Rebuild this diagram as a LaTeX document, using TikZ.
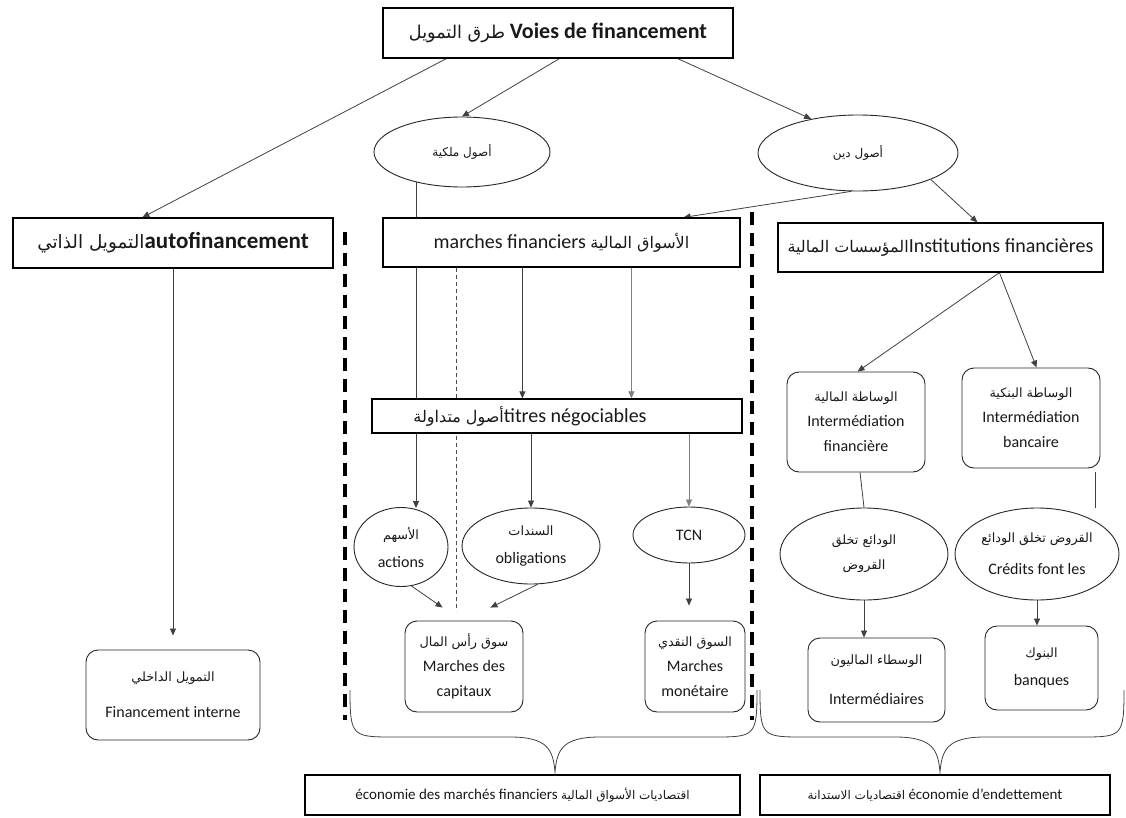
\documentclass[tikz,border=0pt]{standalone}
\usepackage{fontspec}
\setmainfont{Carlito}
\newfontfamily\arabicfont[Script=Arabic,Scale=0.8]{DejaVu Sans}
\TeXXeTstate=1
\newcommand\artxt[1]{{\arabicfont\mdseries\beginR #1\endR}}
\usetikzlibrary{arrows.meta,shapes.geometric,calc}
\pgfdeclarelayer{bg}
\pgfsetlayers{bg,main}
\begin{document}
\begin{tikzpicture}[x=1pt,y=-1pt,
  box/.style={draw=black, line width=1.2pt, fill=white, inner sep=0pt, text=black!90, font=\fontsize{20}{24}\selectfont},
  rbox/.style={draw=black!85, line width=0.9pt, rounded corners=12pt, fill=white, align=center, inner sep=0pt, text=black!90},
  ell/.style={ellipse, draw=black!85, line width=0.9pt, fill=white, inner sep=0pt, align=center, text=black!90},
  arr/.style={-{Triangle[length=7pt,width=6pt]}, line width=0.8pt, draw=black!75},
  garr/.style={-{Triangle[length=7pt,width=6pt]}, line width=0.6pt, draw=black!50},
  ln/.style={line width=0.8pt, draw=black!75},
  sep/.style={line width=4pt, draw=black, dash pattern=on 13pt off 8pt},
  fs/.style={font=\fontsize{16}{25}\selectfont},
]
\useasboundingbox (0,0) rectangle (1126,818);

% top row
\node[box, minimum width=350, minimum height=50, font=\bfseries\fontsize{22}{26}\selectfont] (top) at (558,33) {\artxt{طرق التمويل} Voies de financement};
\node[ell, minimum width=176, minimum height=70, font=\fontsize{15}{20}\selectfont] (o1) at (462,152) {\artxt{أصول ملكية}};
\node[ell, minimum width=200, minimum height=76, font=\fontsize{15}{20}\selectfont] (o2) at (858,153) {\artxt{أصول دين}};

% second row boxes
\node[box, minimum width=320, minimum height=50, font=\bfseries\fontsize{23}{27}\selectfont] (auto) at (173,243) {\artxt{التمويل الذاتي}autofinancement};
\node[box, minimum width=357, minimum height=49] (mf) at (561.5,242.5) {marches financiers \artxt{الأسواق المالية}};
\node[box, minimum width=325, minimum height=49] (inst) at (940.5,247.5) {\artxt{المؤسسات المالية}Institutions financières};

% titres
\node[box, minimum width=370, minimum height=34] (titres) at (557,416) {};
\node[inner sep=0pt, text=black!90, font=\fontsize{20}{24}\selectfont] (titrest) at (530,416) {\artxt{أصول متداولة}titres négociables};

% intermediation
\node[rbox, fs, minimum width=138, minimum height=100] (fin) at (856,422) {\artxt{الوساطة المالية}\\Intermédiation\\financière};
\node[rbox, fs, minimum width=138, minimum height=100] (banc) at (1031,418) {\artxt{الوساطة البنكية}\\Intermédiation\\bancaire};

% right ellipses
\node[ell, fs, minimum width=168, minimum height=92] (e1) at (864,554) {\artxt{الودائع تخلق}\\\artxt{القروض}};
\node[ell, fs, minimum width=164, minimum height=92, font=\fontsize{16}{32}\selectfont] (e2) at (1037,554) {\artxt{القروض تخلق الودائع}\\Crédits font les};

% right bottom boxes
\node[rbox, minimum width=137, minimum height=84, font=\fontsize{16}{40}\selectfont] (inter) at (876.5,680) {\artxt{الوسطاء الماليون}\\Intermédiaires};
\node[rbox, minimum width=113, minimum height=84, font=\fontsize{16}{28}\selectfont] (banq) at (1041.5,668) {\artxt{البنوك}\\banques};

% middle ellipses
\node[ell, minimum width=94, minimum height=79, font=\fontsize{16}{28}\selectfont] (act) at (401,547) {\artxt{الأسهم}\\actions};
\node[ell, minimum width=138, minimum height=76, font=\fontsize{16}{28}\selectfont] (obl) at (531,546) {\artxt{السندات}\\obligations};
\node[ell, minimum width=112, minimum height=56, font=\fontsize{16}{20}\selectfont] (tcn) at (689,535) {TCN};

% middle bottom boxes
\node[rbox, fs, minimum width=118, minimum height=91] (cap) at (464,666.5) {\artxt{سوق رأس المال}\\Marches des\\capitaux};
\node[rbox, fs, minimum width=100, minimum height=91] (mon) at (695,666.5) {\artxt{السوق النقدي}\\Marches\\monétaire};

% left bottom box
\node[rbox, minimum width=174, minimum height=90, font=\fontsize{16}{36}\selectfont] (fi) at (173,695) {\artxt{التمويل الداخلي}\\Financement interne};

% bottom labels
\node[box, minimum width=435, minimum height=40, font=\fontsize{15}{18}\selectfont] (lab1) at (522.5,795) {économie des marchés financiers \artxt{اقتصاديات الأسواق المالية}};
\node[box, minimum width=350, minimum height=40, font=\fontsize{15}{18}\selectfont] (lab2) at (935,795) {\artxt{اقتصاديات الاستدانة} économie d'endettement};

\begin{pgfonlayer}{bg}
% from top
\draw[arr] ($(top.south west)+(64,0)$) -- ($(auto.north west)+(130,0)$);
\draw[arr] ($(top.south west)+(177,0)$) -- (o1.north);
\draw[arr] ($(top.south east)+(-56,0)$) -- (o2.144);
% from o2
\draw[arr] (o2.260) -- ($(mf.north east)+(-57,0)$);
\draw[arr] (o2.-20) -- ($(inst.north west)+(200,0)$);
% institutions
\draw[arr] ($(inst.south west)+(222,0)$) -- ($(fin.north west)+(71,0)$);
\draw[arr] ($(inst.south west)+(222,0)$) -- ($(banc.north west)+(75,0)$);
\draw[ln] ($(fin.south)+(4,0)$) -- (e1.north);
\draw[ln] ($(banc.south east)+(-5,4)$) -- ($(banc.south east)+(-5,40)$);
\draw[arr] (e1.south) -- (e1.south |- inter.north);
\draw[arr] (e2.south) -- (e2.south |- banq.north);
% middle
\draw[arr] ($(o1.center)+(-46,30)$) -- ($(act.north)+(15,1)$);
\draw[arr] ($(mf.south west)+(140,0)$) -- ($(titres.north west)+(151,0)$);
\draw[garr] ($(mf.south west)+(249,0)$) -- ($(titres.north west)+(260,0)$);
\draw[arr] (titres.south -| obl.north) -- (obl.north);
\draw[garr] (titres.south -| tcn.north) -- (tcn.north);
\draw[line width=0.6pt, draw=black!70, dash pattern=on 4pt off 3pt] ($(mf.south west)+(74,0)$) -- ($(mf.south west)+(74,343)$);
\draw[arr] (act.-75) -- ($(cap.north west)+(38,-13)$);
\draw[arr] (obl.-80) -- ($(cap.north east)+(-33,-13)$);
\draw[arr] (tcn.south) -- ($(tcn.south |- mon.north)+(0,-15)$);
% left
\draw[arr] (auto.south) -- ($(fi.north)+(0,-14)$);
\end{pgfonlayer}

% separators
\draw[sep] (345,232) -- (345,720);
\draw[sep] (752,212) -- (752,720);

% braces
\draw[ln] (350,690) .. controls (350,737) and (352,737) .. (395,737) -- (510,737) .. controls (548,737) and (553,750) .. (555,772) .. controls (557,750) and (562,737) .. (600,737) -- (712,737) .. controls (755,737) and (757,737) .. (757,690);
\draw[ln] (760,690) .. controls (760,737) and (762,737) .. (805,737) -- (895,737) .. controls (933,737) and (938,750) .. (940,772) .. controls (942,750) and (947,737) .. (985,737) -- (1080,737) .. controls (1122,737) and (1124,737) .. (1124,690);
\end{tikzpicture}
\end{document}
